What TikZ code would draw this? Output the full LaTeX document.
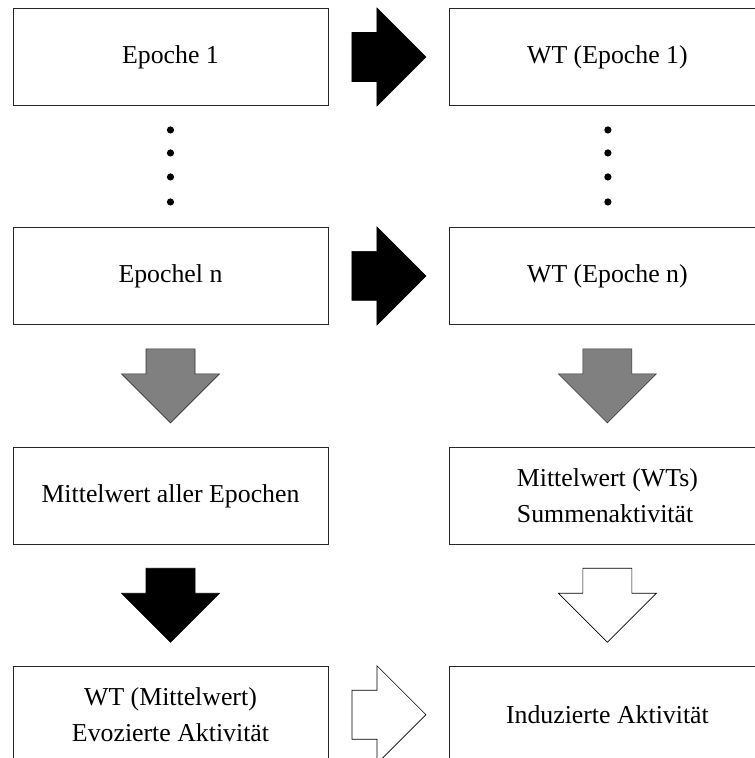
\documentclass[tikz,border=0pt]{standalone}
\usepackage{fontspec}
\setmainfont{Liberation Serif}
\usetikzlibrary{positioning, calc}

\begin{document}
\begin{tikzpicture}[x=1pt, y=1pt, node distance=121pt and 121pt,
    box/.style={rectangle, draw=black!85, line width=0.9pt, minimum width=315pt, minimum height=97pt, inner sep=0pt, align=center, font=\fontsize{25.8}{36}\selectfont},
    blockarrow/.pic={\path[pic actions] (-37,24.5) -- (-12,24.5) -- (-12,49) -- (37,0) -- (-12,-49) -- (-12,-24.5) -- (-37,-24.5) -- cycle;},
    fullarrow/.style={draw=black, fill=black, line width=0.6pt},
    grayarrow/.style={draw=black!80, fill=black!50, line width=0.6pt},
    openarrow/.style={draw=black, fill=white, line width=0.6pt}
]
    \clip (0,0) rectangle (755,-758);

    % Epochen
    \node [box] (ep1) at (170.5,-57) {Epoche 1};
    \node [box, below=of ep1] (epn) {Epochel n};
    \node [box, right=of ep1] (wt1) {WT (Epoche 1)};
    \node [box, right=of epn] (wtn) {WT (Epoche n)};

    % Mittelwerte
    \node [box, below=122pt of epn] (mean) {Mittelwert aller Epochen};
    \node [box, below=122pt of wtn, align=left] (meanwt) {Mittelwert (WTs)\\Summenaktivität};

    % Ergebnisse
    \node [box, below=of mean] (evoked) {WT (Mittelwert)\\Evozierte Aktivität};
    \node [box, below=of meanwt] (induced) {Induzierte Aktivität};

    % Punkte
    \foreach \d in {24,47,71,96} {
        \fill ($(ep1.south)+(0,-\d)$) circle (3.6);
        \fill ($(wt1.south)+(0.5,-\d)$) circle (3.6);
    }

    % Pfeile
    \pic [fullarrow] at ($(ep1.east)!0.5!(wt1.west)$) {blockarrow};
    \pic [fullarrow] at ($(epn.east)!0.5!(wtn.west)$) {blockarrow};
    \pic [grayarrow, rotate=-90] at ($(epn.south)!0.5!(mean.north)$) {blockarrow};
    \pic [grayarrow, rotate=-90] at ($(wtn.south)!0.5!(meanwt.north)$) {blockarrow};
    \pic [fullarrow, rotate=-90] at ($(mean.south)!0.5!(evoked.north)$) {blockarrow};
    \pic [openarrow, rotate=-90] at ($(meanwt.south)!0.5!(induced.north)$) {blockarrow};
    \pic [openarrow] at ($(evoked.east)!0.5!(induced.west)$) {blockarrow};
\end{tikzpicture}
\end{document}
